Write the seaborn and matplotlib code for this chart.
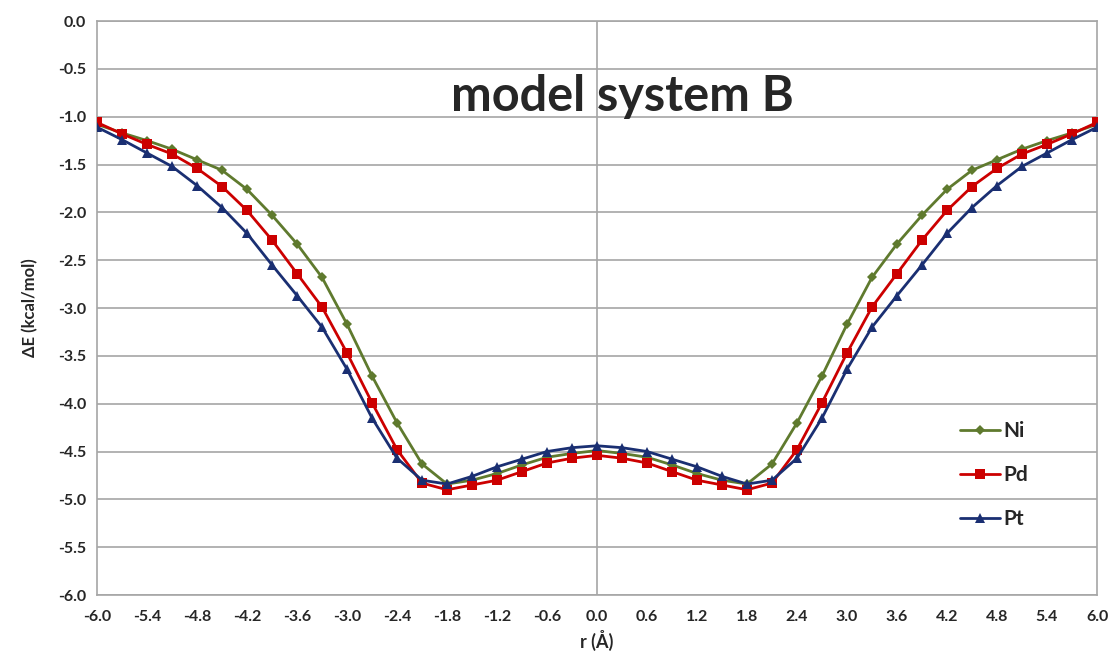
import pandas as pd
import numpy as np
import seaborn as sns
import matplotlib.pyplot as plt

r = [-6.0, -5.7, -5.4, -5.1, -4.8, -4.5, -4.2, -3.9, -3.6, -3.3, -3.0,
     -2.7, -2.4, -2.1, -1.8, -1.5, -1.2, -0.9, -0.6, -0.3, 0.0,
     0.3, 0.6, 0.9, 1.2, 1.5, 1.8, 2.1, 2.4, 2.7, 3.0,
     3.3, 3.6, 3.9, 4.2, 4.5, 4.8, 5.1, 5.4, 5.7, 6.0]

ni = [-1.08, -1.17, -1.25, -1.34, -1.45, -1.56, -1.76, -2.03, -2.33, -2.68, -3.17,
      -3.71, -4.20, -4.63, -4.84, -4.80, -4.73, -4.64, -4.56, -4.52, -4.49,
      -4.52, -4.56, -4.64, -4.73, -4.80, -4.84, -4.63, -4.20, -3.71, -3.17,
      -2.68, -2.33, -2.03, -1.76, -1.56, -1.45, -1.34, -1.25, -1.17, -1.08]
pd_ = [-1.06, -1.18, -1.29, -1.39, -1.54, -1.73, -1.98, -2.29, -2.64, -2.99, -3.47,
       -3.99, -4.48, -4.83, -4.90, -4.85, -4.80, -4.71, -4.62, -4.57, -4.54,
       -4.57, -4.62, -4.71, -4.80, -4.85, -4.90, -4.83, -4.48, -3.99, -3.47,
       -2.99, -2.64, -2.29, -1.98, -1.73, -1.54, -1.39, -1.29, -1.18, -1.06]
pt = [-1.11, -1.24, -1.38, -1.52, -1.72, -1.95, -2.22, -2.55, -2.87, -3.20, -3.64,
      -4.15, -4.57, -4.80, -4.84, -4.76, -4.66, -4.58, -4.50, -4.46, -4.44,
      -4.46, -4.50, -4.58, -4.66, -4.76, -4.84, -4.80, -4.57, -4.15, -3.64,
      -3.20, -2.87, -2.55, -2.22, -1.95, -1.72, -1.52, -1.38, -1.24, -1.11]

series = ["Ni", "Pd", "Pt"]
df = pd.DataFrame({"r": r * 3, "dE": ni + pd_ + pt,
                   "metal": [s for s in series for _ in r]})

xticks = [-6.0, -5.4, -4.8, -4.2, -3.6, -3.0, -2.4, -1.8, -1.2, -0.6, 0.0,
          0.6, 1.2, 1.8, 2.4, 3.0, 3.6, 4.2, 4.8, 5.4, 6.0]
yticks = [0.0, -0.5, -1.0, -1.5, -2.0, -2.5, -3.0, -3.5, -4.0, -4.5, -5.0, -5.5, -6.0]

sns.set_style("white")
plt.rcParams['font.family'] = ['Lato', 'DejaVu Sans']
plt.rcParams['font.weight'] = 'bold'

colors = {"Ni": "#5f7a2e", "Pd": "#cc0000", "Pt": "#1a2f72"}
markers = {"Ni": "D", "Pd": "s", "Pt": "^"}
msize = {"Ni": 5, "Pd": 7.5, "Pt": 7.5}

fig = plt.figure(figsize=(11.1, 6.69), dpi=100)
ax = fig.add_axes([0.0874, 0.1106, 0.9009, 0.858])

for s in series:
    sns.lineplot(data=df[df["metal"] == s], x="r", y="dE", color=colors[s],
                 marker=markers[s], markersize=msize[s], markeredgewidth=0,
                 linewidth=2, label=s, ax=ax, zorder=3)

ax.set_xlim(-6, 6)
ax.set_ylim(-6, 0)
ax.set_xticks(xticks)
ax.set_xticklabels([f"{v:.1f}" for v in xticks], fontsize=11.5, fontweight='bold')
ax.set_yticks(yticks)
ax.set_yticklabels([f"{v:.1f}" for v in yticks], fontsize=11.5, fontweight='bold')
ax.yaxis.grid(True, color="#a6a6a6", linewidth=1.2)
ax.axvline(0, color="#a6a6a6", linewidth=1.2, zorder=1)
for sp in ax.spines.values():
    sp.set_color("#a6a6a6")
    sp.set_linewidth(1.2)
ax.tick_params(axis='x', direction='out', length=5, color="#a6a6a6", pad=6)
ax.tick_params(axis='y', length=0, pad=8)

ax.set_xlabel("r (Å)", fontsize=13, fontweight='bold', labelpad=4)
ax.set_ylabel("ΔE (kcal/mol)", fontsize=12, fontweight='bold', labelpad=14)

ax.text(0.3, -0.79, "model system B", fontsize=35, fontweight='bold',
        ha='center', va='center')

leg = ax.legend(loc='center left', bbox_to_anchor=(0.863, 0.209), frameon=False,
                borderpad=0, borderaxespad=0, handlelength=1.9, handletextpad=0.2,
                labelspacing=1.15, prop={'size': 15, 'weight': 'bold'})

fig.savefig("out.png", dpi=100)
